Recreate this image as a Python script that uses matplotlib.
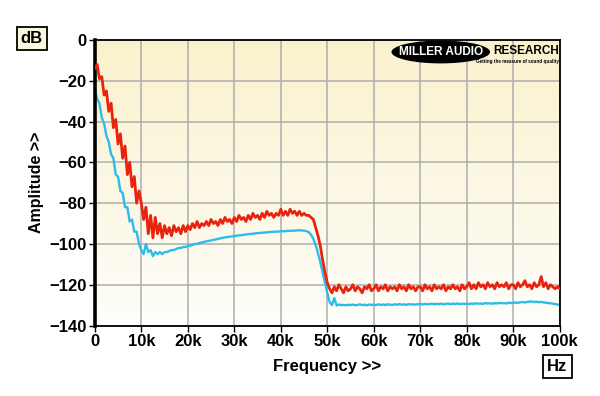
import numpy as np
import matplotlib.pyplot as plt
from matplotlib.patches import Ellipse

# frequency grid in Hz (0.5 kHz steps, 0..100k)
freq = np.arange(0, 100001, 500)

# red trace (dB), one row per 10 kHz
red_db = [
    -14, -12, -19, -18, -27, -25, -35, -31, -43, -39, -51, -46, -58, -52, -66, -60, -72, -67, -80, -74,
    -80, -88, -82, -95, -86, -97, -87, -95, -90, -97, -91, -95, -92, -96, -91, -94, -92, -95, -91, -94,
    -91, -93, -90, -92, -89, -92, -90, -91, -89, -91, -88, -90, -89, -91, -88, -90, -87, -89, -88, -90,
    -87, -89, -86, -88, -87, -89, -86, -88, -85, -87, -86, -88, -85, -87, -84, -86, -85, -87, -85, -86,
    -83, -86, -84, -86, -83, -85, -84, -86, -84, -86, -85, -86, -86, -87, -88, -92, -96, -101, -108, -114,
    -119, -122, -124, -121, -123, -120, -122, -124, -121, -123, -122, -120, -123, -121, -122, -124, -121, -122, -120, -123,
    -122, -120, -123, -121, -122, -120, -123, -121, -122, -121, -123, -120, -122, -121, -123, -120, -122, -121, -123, -121,
    -121, -123, -120, -122, -121, -123, -120, -122, -121, -122, -120, -123, -121, -122, -120, -122, -121, -123, -120, -122,
    -121, -119, -122, -120, -122, -119, -121, -120, -122, -119, -121, -120, -122, -119, -121, -120, -121, -119, -122, -120,
    -120, -122, -119, -121, -120, -118, -121, -120, -122, -119, -121, -120, -116, -121, -119, -122, -120, -121, -122, -121,
    -122,
]

# blue trace (dB)
blue_db = [
    -24, -29, -31, -38, -41, -47, -50, -56, -58, -66, -67, -74, -75, -82, -82, -89, -88, -94, -94, -100,
    -103, -105, -100, -104, -103, -106, -104, -105, -104, -105, -104, -104, -103.5, -103, -103, -102.5, -102, -102, -101.5, -101.5,
    -101, -100.8, -100.5, -100, -100, -99.5, -99.3, -99, -98.7, -98.5, -98.3, -98, -97.8, -97.5, -97.3, -97, -96.8, -96.6, -96.5, -96.3,
    -96.2, -96, -95.8, -95.7, -95.5, -95.4, -95.2, -95.1, -95, -94.8, -94.7, -94.6, -94.5, -94.4, -94.3, -94.2, -94.1, -94, -94, -93.9,
    -93.8, -93.8, -93.7, -93.6, -93.6, -93.5, -93.5, -93.4, -93.3, -93.4, -93.5, -93.7, -94.2, -95.5, -97.5, -100.5, -104.5, -109, -114, -119,
    -124, -128.5, -130, -126.5, -130.2, -129.7, -130, -129.9, -130.1, -129.8, -130, -129.7, -130.1, -129.9, -129.6, -130, -129.8, -130.1, -129.7, -129.9,
    -129.8, -130, -129.6, -129.9, -129.7, -130, -129.6, -129.8, -129.9, -129.6, -129.8, -129.5, -129.8, -129.6, -129.9, -129.5, -129.7, -129.6, -129.8, -129.5,
    -129.5, -129.7, -129.4, -129.6, -129.5, -129.3, -129.6, -129.4, -129.5, -129.3, -129.6, -129.4, -129.2, -129.5, -129.3, -129.4, -129.2, -129.5, -129.3, -129.4,
    -129.3, -129.5, -129.2, -129.4, -129.1, -129.3, -129.2, -129.4, -129.0, -129.2, -129.1, -129.3, -129.0, -129.2, -128.9, -129.1, -129.0, -129.2, -128.8, -129.0,
    -128.9, -128.7, -128.9, -128.6, -128.5, -128.7, -128.4, -128.3, -128.2, -128.5, -128.3, -128.6, -128.4, -128.7, -128.8, -129.0, -129.1, -129.3, -129.5, -129.7,
    -130,
]

xticks = np.arange(0, 100001, 10000)
xtick_labels = ["0", "10k", "20k", "30k", "40k", "50k", "60k", "70k", "80k", "90k", "100k"]
yticks = np.arange(-140, 1, 20)

plt.rcParams["font.family"] = ["Liberation Sans", "DejaVu Sans"]
plt.rcParams["font.weight"] = "bold"

fig = plt.figure(figsize=(6, 3.96), dpi=100)
fig.patch.set_facecolor("white")
ax = fig.add_axes([0.158, 0.178, 0.775, 0.721])

# cream background fading towards the bottom
grad = np.linspace(0, 1, 256).reshape(-1, 1)
ax.imshow(np.dstack([np.full_like(grad, 0.98) + 0.017 * grad,
                     0.945 + 0.05 * grad,
                     0.80 + 0.18 * grad]),
          extent=[0, 100000, -140, 0], aspect="auto", origin="upper", zorder=0)

ax.set_xlim(0, 100000)
ax.set_ylim(-140, 0)
ax.set_xticks(xticks)
ax.set_xticklabels(xtick_labels)
ax.set_yticks(yticks)
ax.grid(True, color="#adadad", lw=1.1, zorder=1)

ax.plot(freq, red_db, color="#e8230f", lw=2.0, zorder=3)
ax.plot(freq, blue_db, color="#2cbcec", lw=1.7, zorder=2)

for s in ax.spines.values():
    s.set_color("black")
    s.set_linewidth(1.3)
ax.spines["left"].set_linewidth(2.6)
ax.tick_params(direction="out", length=4, width=1, colors="black", labelsize=12, pad=2)
for lab in ax.get_xticklabels() + ax.get_yticklabels():
    lab.set_fontweight("bold")

ax.set_xlabel("Frequency >>", fontsize=12, fontweight="bold", labelpad=7)
ax.set_ylabel("Amplitude >>", fontsize=11.5, fontweight="bold", labelpad=4)

box = dict(boxstyle="square,pad=0.25", fc="#fbf7df", ec="black", lw=1.3)
fig.text(0.053, 0.903, "dB", fontsize=12, fontweight="bold", ha="center", va="center", bbox=box)
fig.text(0.929, 0.074, "Hz", fontsize=12, fontweight="bold", ha="center", va="center",
         bbox=dict(boxstyle="square,pad=0.25", fc="white", ec="black", lw=1.3))

# logo
ax.add_patch(Ellipse((0.744, 0.958), 0.212, 0.08, transform=ax.transAxes, fc="black", ec="none", zorder=4))
ax.text(0.744, 0.958, "MILLER AUDIO", transform=ax.transAxes, color="white", fontsize=8.5,
        fontweight="bold", ha="center", va="center", zorder=5)
ax.text(0.998, 0.962, "RESEARCH", transform=ax.transAxes, color="black", fontsize=8.5,
        fontweight="bold", ha="right", va="center", zorder=5)
ax.text(0.998, 0.925, "Getting the measure of sound quality", transform=ax.transAxes, color="black",
        fontsize=3.3, fontweight="bold", ha="right", va="center", zorder=5)

fig.savefig("out.png", dpi=100, facecolor="white")
